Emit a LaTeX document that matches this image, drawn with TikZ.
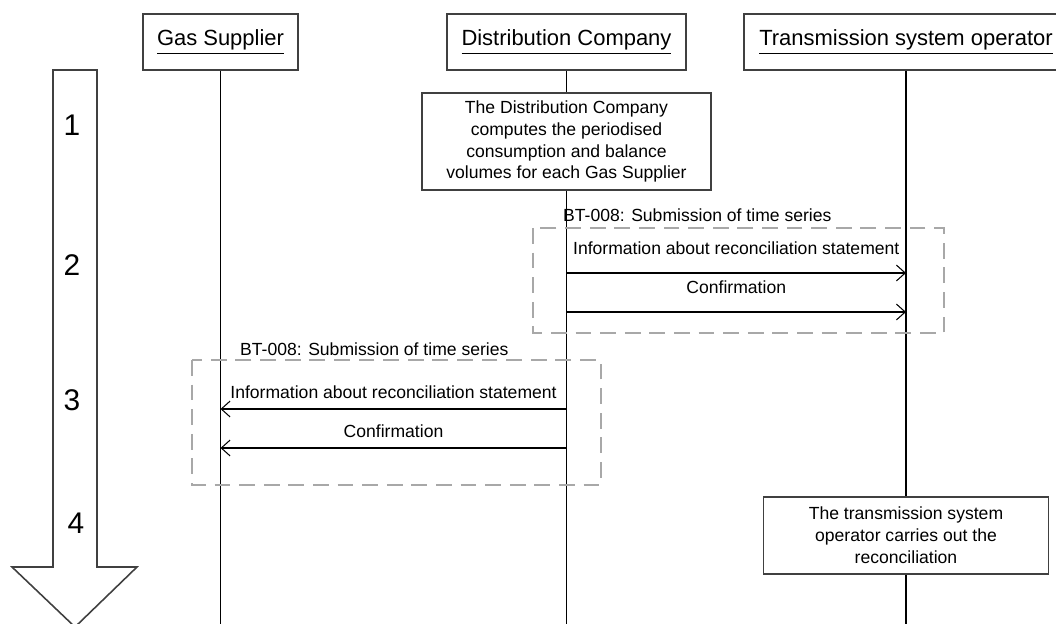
\documentclass[tikz,border=0pt]{standalone}
\usepackage{fontspec}
\setmainfont{Liberation Sans}
\usetikzlibrary{arrows.meta}
\definecolor{boxgray}{HTML}{404040}
\definecolor{framegray}{HTML}{A8A8A8}
\tikzset{
  actor/.style={draw=boxgray,line width=1.1pt,minimum height=1.12cm,font=\fontsize{12.5}{15}\selectfont},
  note/.style={draw=boxgray,line width=0.9pt,align=center},
  lifeline/.style={draw=black,line width=0.6pt},
  msg/.style={draw=black,line width=0.6pt,-{Straight Barb[length=5pt,width=9pt]}},
  frame/.style={draw=framegray,line width=1.6pt,dash pattern=on 9pt off 5pt},
  steplabel/.style={font=\fontsize{17}{20}\selectfont},
}
\begin{document}
\begin{tikzpicture}[font=\fontsize{10}{12.5}\selectfont]
  \useasboundingbox (0,0) rectangle (21.12,-12.48);

  \draw[draw=boxgray,line width=0.9pt] (1.06,-1.40) -- (1.94,-1.40) -- (1.94,-11.34) -- (2.74,-11.34)
    -- (1.50,-12.54) -- (0.24,-11.34) -- (1.06,-11.34) -- cycle;

  \begin{scope}[every node/.style=steplabel]
    \node (s1) at (1.44,-2.50)  {1};
    \node (s2) at (1.44,-5.30)  {2};
    \node (s3) at (1.44,-8.00)  {3};
    \node (s4) at (1.52,-10.46) {4};
  \end{scope}

  \begin{scope}[every node/.style=actor]
    \node[minimum width=3.1cm]  (gs)  at (4.41,-0.84)  {\underline{Gas Supplier}};
    \node[minimum width=4.78cm] (dc)  at (11.33,-0.84) {\underline{Distribution Company}};
    \node[minimum width=6.48cm] (tso) at (18.12,-0.84) {\underline{Transmission system operator}};
  \end{scope}

  \node[note,minimum width=5.78cm,minimum height=1.94cm] (calc) at (11.33,-2.83)
    {The Distribution Company\\computes the periodised\\consumption and balance\\volumes for each Gas Supplier};
  \node[note,minimum width=5.7cm,minimum height=1.54cm] (recon) at (18.12,-10.71)
    {The transmission system\\operator carries out the\\reconciliation};

  \coordinate (gsend)  at (4.41,-12.48);
  \coordinate (dcend)  at (11.33,-12.48);
  \coordinate (tsoend) at (18.12,-12.48);

  \draw[lifeline] (gs) -- (gsend);
  \draw[lifeline] (dc) -- (calc);
  \draw[lifeline] (calc) -- (dcend);
  \draw[lifeline] (tso) -- (recon);
  \draw[lifeline] (recon) -- (tsoend);

  \draw[frame] (10.66,-4.56) rectangle (18.88,-6.66);
  \draw[frame] (3.84,-7.20) rectangle (12.02,-9.70);
  \node[anchor=west] (bt1) at (11.14,-4.30) {BT-008: Submission of time series};
  \node[anchor=west] (bt2) at (4.68,-6.98)  {BT-008: Submission of time series};

  \coordinate (m1a) at (11.33,-5.46);
  \coordinate (m1b) at (18.12,-5.46);
  \coordinate (m2a) at (11.33,-6.24);
  \coordinate (m2b) at (18.12,-6.24);
  \coordinate (m3a) at (11.33,-8.18);
  \coordinate (m3b) at (4.41,-8.18);
  \coordinate (m4a) at (11.33,-8.96);
  \coordinate (m4b) at (4.41,-8.96);

  \draw[msg] (m1a) -- node[above=7pt] {Information about reconciliation statement} (m1b);
  \draw[msg] (m2a) -- node[above=7pt] {Confirmation} (m2b);
  \draw[msg] (m3a) -- node[above=2pt] {Information about reconciliation statement} (m3b);
  \draw[msg] (m4a) -- node[above=2pt] {Confirmation} (m4b);

\end{tikzpicture}
\end{document}
